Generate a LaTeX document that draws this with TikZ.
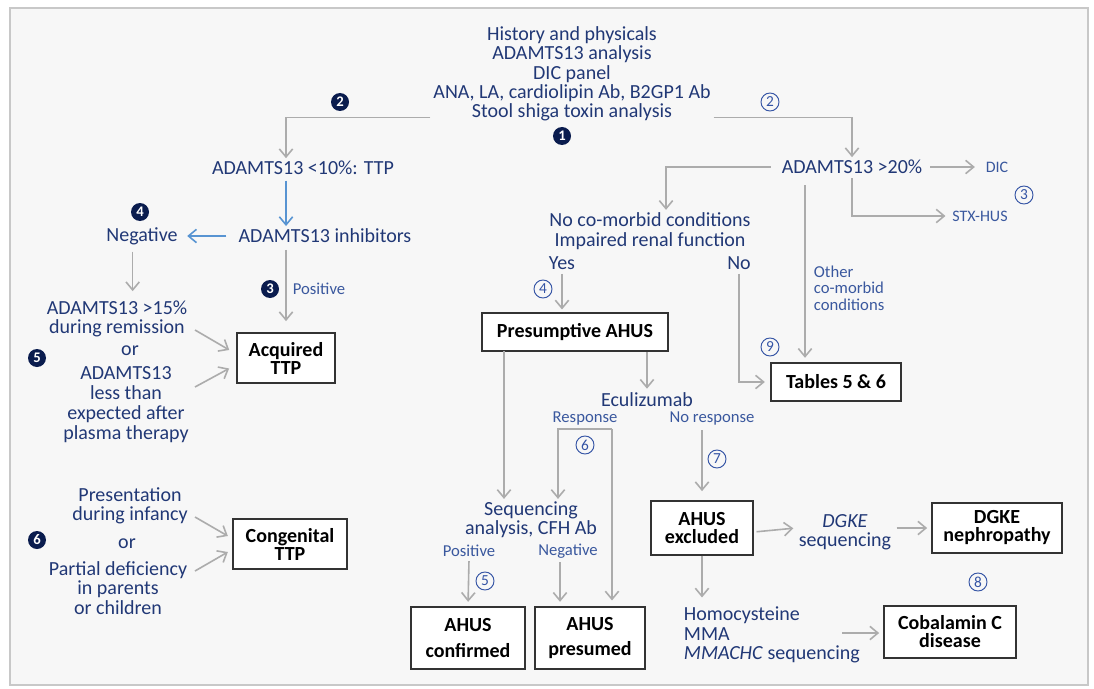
\documentclass[tikz,border=0pt]{standalone}
\usepackage{fontspec}
\setmainfont{Carlito}
\usetikzlibrary{arrows.meta}
\definecolor{txtblue}{RGB}{33,56,118}
\definecolor{lblue}{RGB}{58,88,158}
\definecolor{dotblue}{RGB}{10,28,78}
\definecolor{ringblue}{RGB}{52,84,165}
\definecolor{linkgray}{RGB}{172,172,172}
\definecolor{linkblue}{RGB}{88,148,210}
\definecolor{panel}{RGB}{247,247,247}
\definecolor{framegray}{RGB}{200,200,200}
\tikzset{%
  panelbox/.style = {draw=framegray, fill=panel, line width=0.9pt},%
  txt/.style      = {text=txtblue, align=center, inner sep=2pt,%
                     font=\fontsize{15}{14.5}\selectfont},%
  small/.style    = {txt, text=lblue, font=\fontsize{12.5}{12.4}\selectfont},%
  minor/.style    = {txt, text=lblue, font=\fontsize{12}{12}\selectfont},%
  box/.style      = {shape=rectangle, draw=black!80, line width=1.3pt,%
                     fill=white, align=center, inner sep=2pt,%
                     font=\bfseries\fontsize{15}{13.5}\selectfont},%
  dotnum/.style   = {circle, fill=dotblue, text=white, inner sep=0pt,%
                     minimum size=13.5pt, font=\bfseries\fontsize{11}{11}\selectfont},%
  ringnum/.style  = {circle, draw=ringblue, line width=0.7pt, text=ringblue,%
                     inner sep=0pt, minimum size=13.5pt, font=\fontsize{11.5}{11.5}\selectfont},%
  link/.style     = {draw=linkgray, line width=1.2pt,%
                     -{Straight Barb[length=6pt,width=10pt]}},%
  bluelink/.style = {link, draw=linkblue}%
}
\begin{document}
\begin{tikzpicture}[x=0.75pt,y=-0.75pt]
	\useasboundingbox (0,0) rectangle (1094,688);
	\fill[white] (0,0) rectangle (1094,688);
	\draw[panelbox] (10,8) rectangle (1088,685);
	% work-up
	\node[txt] (workup) at (572,74) {History and physicals\\ADAMTS13 analysis\\DIC panel\\ANA, LA, cardiolipin Ab, B2GP1 Ab\\Stool shiga toxin analysis};
	\node[dotnum] (n1) at (562,136) {1};
	\node[dotnum] (n2) at (340,102) {2};
	\node[ringnum] (r2) at (770,102) {2};
	% TTP side
	\node[txt] (ttp) at (303,168) {ADAMTS13 <10\%: TTP};
	\node[txt] (inhib) at (325,236) {ADAMTS13 inhibitors};
	\node[txt] (neg) at (142,236) {Negative};
	\node[dotnum] (n4) at (140,212) {4};
	\node[dotnum] (n3) at (270,289) {3};
	\node[small] (pos) at (319,289) {Positive};
	\node[box, minimum width=73.5pt, minimum height=38pt] (acq) at (286,358) {Acquired\\TTP};
	\node[txt] (remis) at (117,319) {ADAMTS13 >15\%\\during remission};
	\node[txt] (or1) at (130,351) {or};
	\node[txt, font=\fontsize{15}{15}\selectfont] (plasma) at (126,405) {ADAMTS13\\less than\\expected after\\plasma therapy};
	\node[dotnum] (n5) at (37,358) {5};
	\node[txt] (infancy) at (130,506) {Presentation\\during infancy};
	\node[txt] (or2) at (127,544) {or};
	\node[txt] (partial) at (118,588) {Partial deficiency\\in parents\\or children};
	\node[dotnum] (n6) at (37,540) {6};
	\node[box, minimum width=85pt, minimum height=38pt] (cong) at (290,544) {Congenital\\TTP};
	\coordinate (a1) at (195,330);
	\coordinate (a2) at (195,387);
	\coordinate (c1) at (195,517);
	\coordinate (c2) at (195,571);
	% AHUS side
	\node[txt] (hi) at (852,167) {ADAMTS13 >20\%};
	\node[minor] (dic) at (997,167) {DIC};
	\node[minor] (stx) at (980,216) {STX-HUS};
	\node[ringnum] (r3) at (1024,195) {3};
	\node[txt] (comorb) at (650,231) {No co-morbid conditions\\Impaired renal function};
	\node[txt] (yes) at (562,263) {Yes};
	\node[txt] (no) at (739,263) {No};
	\node[ringnum] (r4) at (543,289) {4};
	\node[small, align=left, anchor=west] (other) at (811,288) {Other\\co-morbid\\conditions};
	\node[ringnum] (r9) at (770,347) {9};
	\node[box, minimum width=97.5pt, minimum height=29pt] (tables) at (836,382) {Tables 5 \& 6};
	\node[box, minimum width=139pt, minimum height=28.5pt] (pres) at (575,332) {Presumptive AHUS};
	\node[txt] (ecu) at (647,400) {Eculizumab};
	\node[small] (resp) at (585,418) {Response};
	\node[small] (noresp) at (712,418) {No response};
	\node[ringnum] (r6) at (585,445) {6};
	\node[ringnum] (r7) at (717,459) {7};
	\node[txt] (seq) at (531,520) {Sequencing\\analysis, CFH Ab};
	\node[small] (pos2) at (469,551) {Positive};
	\node[small] (neg2) at (568,551) {Negative};
	\node[ringnum] (r5) at (485,581) {5};
	\node[box, minimum width=85pt, minimum height=47pt, font=\bfseries\fontsize{15}{19}\selectfont] (conf) at (468,638) {AHUS\\confirmed};
	\node[box, minimum width=83pt, minimum height=47pt, font=\bfseries\fontsize{15}{19}\selectfont] (prsm) at (590,638) {AHUS\\presumed};
	\node[box, minimum width=76.5pt, minimum height=40pt] (excl) at (702,528) {AHUS\\excluded};
	\node[txt] (dgkeseq) at (845,532) {\textit{DGKE}\\sequencing};
	\node[box, minimum width=97.5pt, minimum height=38pt] (dgke) at (997,528) {DGKE\\nephropathy};
	\node[ringnum] (r8) at (978,582) {8};
	\node[txt, align=left, anchor=west] (homo) at (681,635) {Homocysteine\\MMA\\\textit{MMACHC} sequencing};
	\node[box, minimum width=99pt, minimum height=39pt] (cobal) at (950,632) {Cobalamin C\\disease};
	\coordinate (othertop) at (805,185);
	\coordinate (leftdrop) at (504,351);
	\coordinate (brl) at (558,429);
	\coordinate (brr) at (612,429);
	\coordinate (cbstart) at (842,633);
	% connectors
	\draw[link] ([yshift=5pt]workup.south west) -| (ttp.north -| acq.north);
	\draw[link] ([yshift=5pt]workup.south east) -| (hi.north);
	\draw[bluelink] ([yshift=-2pt]ttp.south -| acq.north) -- (inhib.north -| acq.north);
	\draw[bluelink, shorten <=7pt, shorten >=5pt] (inhib.west) -- (neg.east);
	\draw[link, shorten <=3pt, shorten >=5pt] ([xshift=-7pt]neg.south) -- ([xshift=-7pt]neg.south |- remis.north);
	\draw[link, shorten <=3pt, shorten >=8pt] (inhib.south -| acq.north) -- (acq.north);
	\draw[link, shorten >=6pt] (a1) -- ([yshift=3pt]acq.west);
	\draw[link, shorten >=6pt] (a2) -- ([yshift=-5pt]acq.west);
	\draw[link, shorten >=4pt] (c1) -- ([yshift=4pt]cong.west);
	\draw[link, shorten >=4pt] (c2) -- ([yshift=-4pt]cong.west);
	\draw[link, shorten <=4pt, shorten >=6pt] (hi.east) -- (dic.west);
	\draw[link] ([yshift=-1pt]hi.south) |- ([xshift=-3pt]stx.west);
	\draw[link, shorten <=6pt] (hi.west) -| ([xshift=12pt]comorb.north);
	\draw[link, shorten >=3pt] (othertop) -- (othertop |- tables.north);
	\draw[link, shorten <=1pt, shorten >=2pt] (yes.south) -- (yes.south |- pres.north);
	\draw[link, shorten <=1pt, shorten >=4pt] (no.south) |- (tables.west);
	\draw[link] (leftdrop) -- (leftdrop |- seq.north);
	\draw[link, shorten >=1pt] (pres.south -| ecu.north) -- (ecu.north);
	\draw[link] (brr) -- (brl) -- (brl |- seq.north);
	\draw[link, shorten >=4pt] (brr) -- (brr |- prsm.north);
	\draw[link, shorten <=2pt, shorten >=7pt] (excl.north |- noresp.south) -- (excl.north);
	\draw[link, shorten <=1pt, shorten >=3pt] (pos2.south) -- (conf.north);
	\draw[link, shorten <=1pt, shorten >=3pt] ([xshift=-6pt]neg2.south) -- ([xshift=-6pt]neg2.south |- prsm.north);
	\draw[link, shorten <=2pt, shorten >=2pt] (excl.east |- dgkeseq.west) -- ([yshift=3pt]dgkeseq.west);
	\draw[link, shorten <=2pt, shorten >=3pt] ([yshift=3pt]dgkeseq.east) -- ([yshift=3pt]dgkeseq.east -| dgke.west);
	\draw[link, shorten >=5pt] (excl.south) -- (excl.south |- homo.north);
	\draw[link, shorten >=3pt] (cbstart) -- (cbstart -| cobal.west);
\end{tikzpicture}
\end{document}
